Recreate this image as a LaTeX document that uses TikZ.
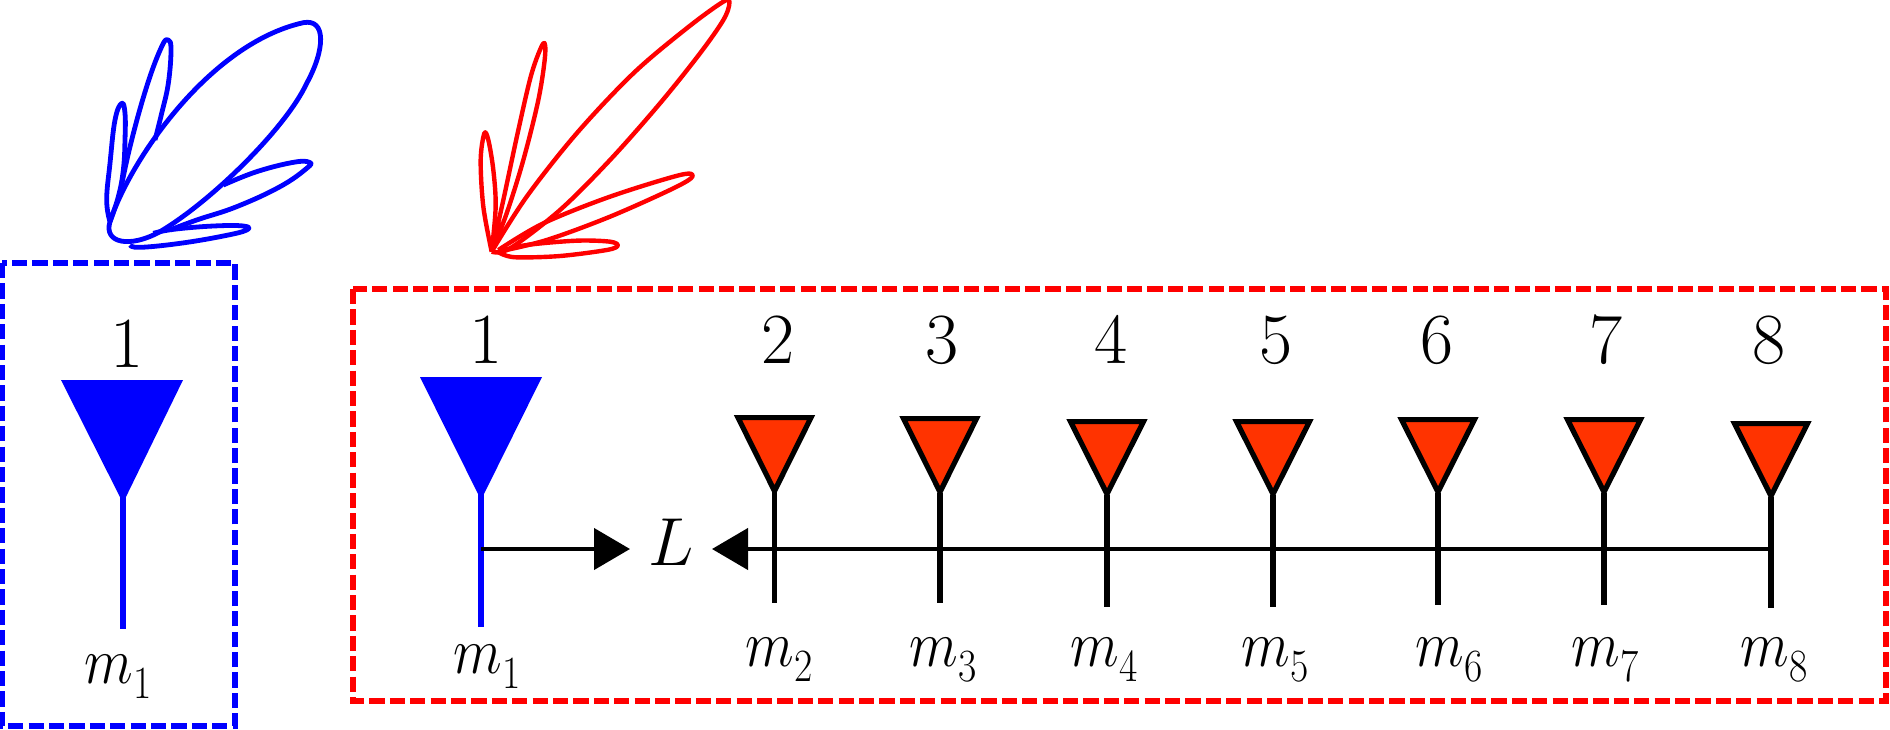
\documentclass[tikz,border=0pt]{standalone}
\usepackage{fix-cm}
\usepackage{graphicx}
\usetikzlibrary{arrows.meta}
\definecolor{antfill}{HTML}{FF3300}
\tikzset{
  numlabel/.style={inner sep=0pt,anchor=base,font=\fontsize{36}{40}\selectfont},
  mlabel/.style={inner sep=0pt,anchor=base west,font=\fontsize{33}{36}\selectfont},
  boxblue/.style={draw=blue,line width=2.8pt,dash pattern=on 7.6pt off 2.6pt},
  boxred/.style={draw=red,line width=2.8pt,dash pattern=on 7.6pt off 2.6pt},
  stemblack/.style={draw=black,line width=2.6pt},
  stemblue/.style={draw=blue,line width=2.8pt},
  trired/.style={draw=black,fill=antfill,line width=2.6pt,miter limit=10},
  triblue/.style={fill=blue},
  lobeblue/.style={draw=blue,line width=2.4pt,line join=round},
  lobered/.style={draw=red,line width=2.2pt,line join=round},
  distarrow/.style={draw=black,line width=2.2pt,-{Triangle[length=18pt,width=20.5pt]}},
}
\newcommand{\mtext}[1]{\scalebox{0.86}[1]{$m_{\raisebox{-3pt}{$\scriptstyle #1$}}$}}
\begin{document}
\begin{tikzpicture}[x=0.5pt,y=-0.5pt]
\useasboundingbox (0,0) rectangle (1890,729);
% dashed boxes
\draw[boxblue] (2,263) rectangle (235,726);
\draw[boxred] (353,289) rectangle (1886,701);
% blue lobes
\begin{scope}[shift={(80,0)},x=0.16667pt,y=-0.16667pt]
\draw[lobeblue] plot[smooth,tension=0.7] coordinates {(90,665) (80,600) (90,490) (105,360) (125,310) (135,340) (135,420) (130,510) (115,590) (90,665)};
\draw[lobeblue] plot[smooth,tension=0.7] coordinates {(118,590) (150,440) (200,260) (245,140) (265,120) (273,150) (265,250) (245,340) (225,420)};
\draw[lobeblue] plot[smooth,tension=0.7] coordinates {(430,555) (530,515) (640,487) (688,487) (680,505) (600,560) (470,620) (350,660) (270,690)};
\draw[lobeblue] plot[smooth,tension=0.7] coordinates {(150,735) (180,742) (300,730) (430,708) (500,690) (490,678) (400,678) (280,688) (220,700)};
\draw[lobeblue] (90,665) .. controls (150,480) and (390,130) .. (670,68) .. controls (740,55) and (735,150) .. (680,250) .. controls (620,380) and (400,600) .. (240,695) .. controls (150,745) and (70,730) .. (90,665) -- cycle;
\end{scope}
% red lobes
\begin{scope}[shift={(460,0)},x=0.16667pt,y=-0.16667pt]
\draw[lobered] plot[smooth,tension=0.55] coordinates {(95,755) (200,590) (350,400) (520,220) (680,85) (790,5) (808,10) (790,60) (720,160) (600,310) (450,480) (300,630) (150,745) (95,755)};
\draw[lobered] plot[smooth,tension=0.55] coordinates {(95,755) (130,600) (175,390) (215,220) (250,130) (255,170) (235,300) (190,480) (140,640) (95,755)};
\draw[lobered] plot[smooth,tension=0.55] coordinates {(95,755) (70,620) (62,480) (73,400) (85,420) (100,510) (107,620) (95,755)};
\draw[lobered] plot[smooth,tension=0.55] coordinates {(115,750) (250,670) (450,590) (660,525) (697,530) (640,565) (450,650) (260,720) (115,755)};
\draw[lobered] plot[smooth,tension=0.55] coordinates {(115,755) (200,735) (350,722) (450,725) (473,737) (440,750) (300,768) (170,772) (125,762) (115,755)};
\end{scope}
% blue antennas
\path[triblue] (61,380) -- (183,380) -- (123,503) -- cycle;
\coordinate (aA) at (123,495); \coordinate (fA) at (123,629);
\draw[stemblue] (aA) -- (fA);
\path[triblue] (420,377) -- (542,377) -- (481,500) -- cycle;
\coordinate (aB) at (481,491); \coordinate (fB) at (481,627);
\draw[stemblue] (aB) -- (fB);
\node[numlabel] (nA) at (127,367) {1};
\node[numlabel] (nB) at (486,363) {1};
\node[mlabel] (mA) at (84,683) {\mtext{1}};
\node[mlabel] (mB) at (453,673) {\mtext{1}};
% red antennas: index / x / top / apex / foot / numx / mx
\foreach \i/\x/\t/\a/\f/\nx/\mx in {2/774.5/415/492/603/778/745,3/940/416/493/603/942/909,4/1107/419/495/607/1111/1070,5/1273/419/495/607/1276/1241,6/1438/417/493/605/1437/1415,7/1604/417/493/605/1606/1571,8/1771/421/497/608/1769/1740}{
  \coordinate (a\i) at (\x,\a);
  \coordinate (f\i) at (\x,\f);
  \draw[trired] (\x-36.5,\t+2.6) -- (\x+36.5,\t+2.6) -- (\x,\a-1) -- cycle;
  \draw[stemblack] (a\i) -- (f\i);
  \node[numlabel] (n\i) at (\nx,363) {\i};
  \node[mlabel] (m\i) at (\mx,666) {\mtext{\i}};
}
% distance label and arrows
\node[mlabel,font=\fontsize{34}{38}\selectfont] (L) at (648,565) {$L$};
\coordinate (s1) at (481,549);
\coordinate (t1) at (630,549);
\coordinate (s2) at (1768,549);
\coordinate (t2) at (712,549);
\draw[distarrow] (s1) -- (t1);
\draw[distarrow] (s2) -- (t2);
\end{tikzpicture}
\end{document}
